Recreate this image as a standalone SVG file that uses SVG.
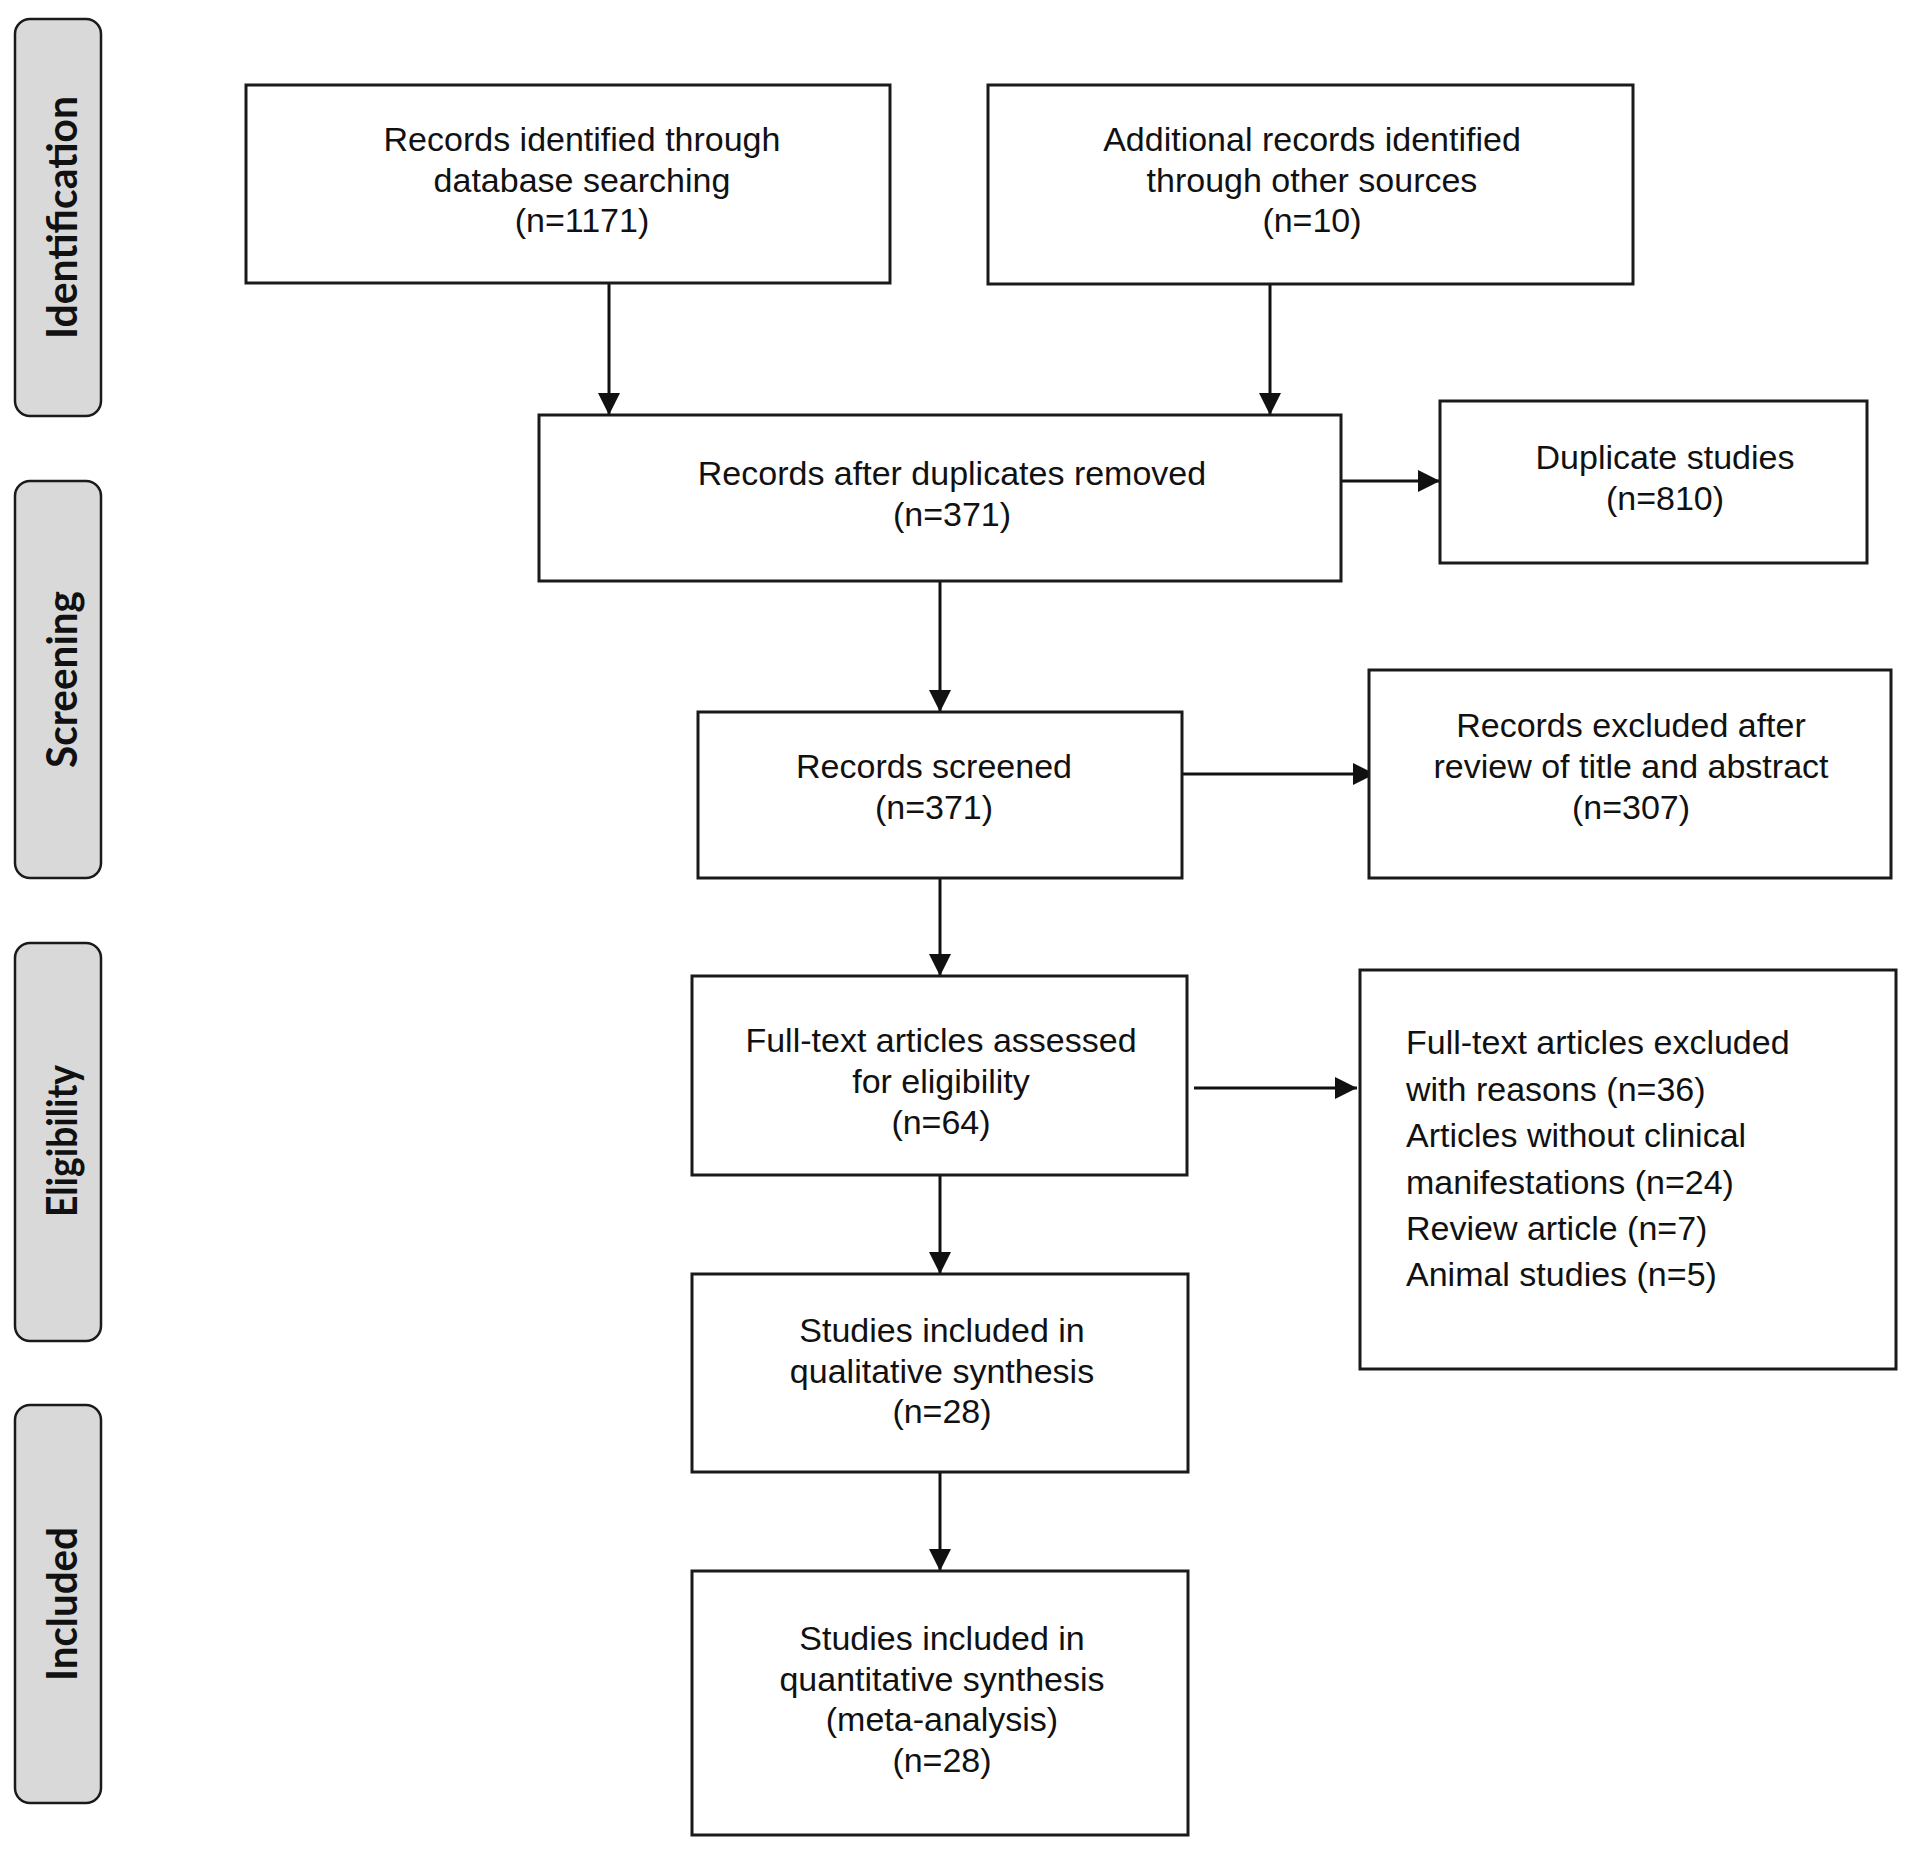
<svg xmlns="http://www.w3.org/2000/svg" width="1913" height="1850" viewBox="0 0 1913 1850">
<style>
.box{fill:#fff;stroke:#1a1a1a;stroke-width:3}
.lab{fill:#d9d9d9;stroke:#1a1a1a;stroke-width:2.5}
.t{font-family:"Liberation Sans",Arial,sans-serif;font-size:34px;fill:#111;text-anchor:middle}
.tl{font-family:"Liberation Sans",Arial,sans-serif;font-size:34px;fill:#111;text-anchor:start}
.lt{font-family:Lato,"Open Sans",sans-serif;font-weight:bold;font-size:42px;fill:#111;text-anchor:middle}
.con{stroke:#111;stroke-width:3;fill:none;marker-end:url(#ah)}
</style>
<defs>
<marker id="ah" viewBox="0 0 22 22" markerWidth="22" markerHeight="22" refX="22" refY="11" orient="auto" markerUnits="userSpaceOnUse">
<path d="M0,0 L22,11 L0,22 z" fill="#111"/>
</marker>
</defs>
<rect width="1913" height="1850" fill="#fff"/>
<g id="phase-identification">
<rect class="lab" x="15" y="19" width="86" height="397" rx="15"/>
<text class="lt" transform="translate(77,217.5) rotate(-90)" textLength="243" lengthAdjust="spacingAndGlyphs">Identification</text>
</g>
<g id="phase-screening">
<rect class="lab" x="15" y="481" width="86" height="397" rx="15"/>
<text class="lt" transform="translate(77,679.5) rotate(-90)" textLength="177" lengthAdjust="spacingAndGlyphs">Screening</text>
</g>
<g id="phase-eligibility">
<rect class="lab" x="15" y="943" width="86" height="398" rx="15"/>
<text class="lt" transform="translate(77,1141) rotate(-90)" textLength="152" lengthAdjust="spacingAndGlyphs">Eligibility</text>
</g>
<g id="phase-included">
<rect class="lab" x="15" y="1405" width="86" height="398" rx="15"/>
<text class="lt" transform="translate(77,1604) rotate(-90)" textLength="154" lengthAdjust="spacingAndGlyphs">Included</text>
</g>
<g id="connectors">
<line class="con" x1="609" y1="283" x2="609" y2="415"/>
<line class="con" x1="1270" y1="284" x2="1270" y2="415"/>
<line class="con" x1="1341" y1="481" x2="1440" y2="481"/>
<line class="con" x1="940" y1="581" x2="940" y2="712"/>
<line class="con" x1="1182" y1="774" x2="1375" y2="774"/>
<line class="con" x1="940" y1="878" x2="940" y2="976"/>
<line class="con" x1="1194" y1="1088" x2="1357" y2="1088"/>
<line class="con" x1="940" y1="1175" x2="940" y2="1274"/>
<line class="con" x1="940" y1="1472" x2="940" y2="1571"/>
</g>
<g id="records-database">
<rect class="box" x="246" y="85" width="644" height="198"/>
<text class="t" x="582" y="151">Records identified through</text>
<text class="t" x="582" y="191.5">database searching</text>
<text class="t" x="582" y="232">(n=1171)</text>
</g>
<g id="records-other">
<rect class="box" x="988" y="85" width="645" height="199"/>
<text class="t" x="1312" y="151">Additional records identified</text>
<text class="t" x="1312" y="191.5">through other sources</text>
<text class="t" x="1312" y="232">(n=10)</text>
</g>
<g id="after-duplicates">
<rect class="box" x="539" y="415" width="802" height="166"/>
<text class="t" x="952" y="485">Records after duplicates removed</text>
<text class="t" x="952" y="526">(n=371)</text>
</g>
<g id="duplicates">
<rect class="box" x="1440" y="401" width="427" height="162"/>
<text class="t" x="1665" y="469">Duplicate studies</text>
<text class="t" x="1665" y="510">(n=810)</text>
</g>
<g id="screened">
<rect class="box" x="698" y="712" width="484" height="166"/>
<text class="t" x="934" y="778">Records screened</text>
<text class="t" x="934" y="819">(n=371)</text>
</g>
<g id="excluded-abstract">
<rect class="box" x="1369" y="670" width="522" height="208"/>
<text class="t" x="1631" y="737">Records excluded after</text>
<text class="t" x="1631" y="778">review of title and abstract</text>
<text class="t" x="1631" y="819">(n=307)</text>
</g>
<g id="full-text">
<rect class="box" x="692" y="976" width="495" height="199"/>
<text class="t" x="941" y="1052">Full-text articles assessed</text>
<text class="t" x="941" y="1093">for eligibility</text>
<text class="t" x="941" y="1134">(n=64)</text>
</g>
<g id="excluded-full-text">
<rect class="box" x="1360" y="970" width="536" height="399"/>
<text class="tl" x="1406" y="1054">Full-text articles excluded</text>
<text class="tl" x="1406" y="1100.5">with reasons (n=36)</text>
<text class="tl" x="1406" y="1147">Articles without clinical</text>
<text class="tl" x="1406" y="1193.5">manifestations (n=24)</text>
<text class="tl" x="1406" y="1240">Review article (n=7)</text>
<text class="tl" x="1406" y="1286">Animal studies (n=5)</text>
</g>
<g id="qualitative">
<rect class="box" x="692" y="1274" width="496" height="198"/>
<text class="t" x="942" y="1342">Studies included in</text>
<text class="t" x="942" y="1382.5">qualitative synthesis</text>
<text class="t" x="942" y="1423">(n=28)</text>
</g>
<g id="quantitative">
<rect class="box" x="692" y="1571" width="496" height="264"/>
<text class="t" x="942" y="1650">Studies included in</text>
<text class="t" x="942" y="1690.5">quantitative synthesis</text>
<text class="t" x="942" y="1731">(meta-analysis)</text>
<text class="t" x="942" y="1771.5">(n=28)</text>
</g>
</svg>
